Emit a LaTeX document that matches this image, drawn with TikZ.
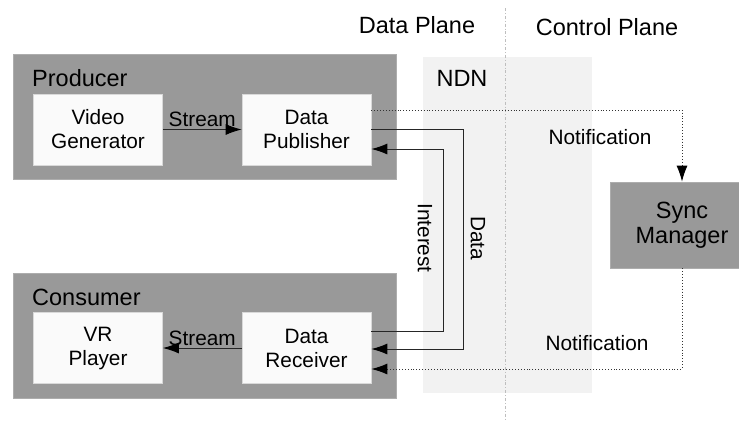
\documentclass[tikz,border=0pt]{standalone}
\usepackage{fontspec}
\setmainfont{Liberation Sans}
\usetikzlibrary{arrows.meta}
\definecolor{hostgray}{RGB}{153,153,153}
\definecolor{ndngray}{RGB}{242,242,242}
\definecolor{planegray}{RGB}{190,190,190}
\tikzstyle{hostbox}=[fill=hostgray,draw=hostgray!80!white,line width=0.8pt,anchor=north west,inner sep=0pt]
\tikzstyle{module}=[fill=white!98!black,draw=white!85!black,line width=0.8pt,minimum width=129pt,minimum height=71pt,align=center,font=\smallfont]
\tikzstyle{flow}=[-{Latex[length=16pt,width=11pt,color=black]},line width=0.9pt,draw=black!85]
\tikzstyle{notif}=[-{Latex[length=16pt,width=11pt,color=black]},line width=0.9pt,draw=black!80,dotted]
\newcommand{\smallfont}{\fontsize{20.8}{24}\selectfont}
\newcommand{\bigfont}{\fontsize{23.5}{25}\selectfont}

\begin{document}
\begin{tikzpicture}[x=1pt,y=-1pt]
	\useasboundingbox (0,0) rectangle (739,421);
	% planes
	\fill[ndngray] (423,57) rectangle (592,393);
	\draw[planegray,line width=0.8pt,dash dot] (505,8) -- (505,421);
	\node[font=\bigfont] (dataplane) at (417,25) {Data Plane};
	\node[font=\bigfont] (controlplane) at (607,27) {Control Plane};
	\node[font=\bigfont] (ndn) at (462,78) {NDN};
	% producer and consumer
	\node[hostbox,minimum width=383pt,minimum height=125pt] (producer) at (13,54) {};
	\node[hostbox,minimum width=383pt,minimum height=125pt] (consumer) at (13,273) {};
	\node[font=\bigfont,anchor=west,inner sep=0pt] (producerlabel) at (32,78) {Producer};
	\node[font=\bigfont,anchor=west,inner sep=0pt] (consumerlabel) at (32,297) {Consumer};
	\node[module] (generator) at (98,129.5) {Video\\Generator};
	\node[module] (publisher) at (306.5,129.5) {Data\\Publisher};
	\node[module] (player) at (98,348) {VR\\Player};
	\node[module] (receiver) at (306.5,348) {Data\\Receiver};
	\node[module,fill=hostgray,draw=hostgray!80!white,minimum width=144pt,minimum height=86pt,font=\bigfont] (sync) at (682,225) {Sync\\Manager};
	% streams
	\draw[flow] (generator) -- (publisher) node[midway,above,inner sep=2pt,font=\smallfont] (streamup) {Stream};
	\draw[flow] (receiver) -- (player) node[midway,above,inner sep=2pt,font=\smallfont] (streamdown) {Stream};
	% interest and data
	\draw[flow] ([yshift=17pt]receiver.east) -- ++(72,0) |- ([yshift=-19.5pt]publisher.east);
	\draw[flow] (publisher.east) -- ++(92,0) |- ([yshift=-1pt]receiver.east);
	\node[font=\smallfont,rotate=-90] (interest) at (425,238) {Interest};
	\node[font=\smallfont,rotate=-90] (data) at (478,238) {Data};
	% notifications
	\draw[notif] ([yshift=19.5pt]publisher.east) -| (sync.north);
	\draw[notif] (sync.south) |- ([yshift=-21pt]receiver.east);
	\node[font=\smallfont] (notifup) at (600,137) {Notification};
	\node[font=\smallfont] (notifdown) at (597,343) {Notification};
\end{tikzpicture}
\end{document}
